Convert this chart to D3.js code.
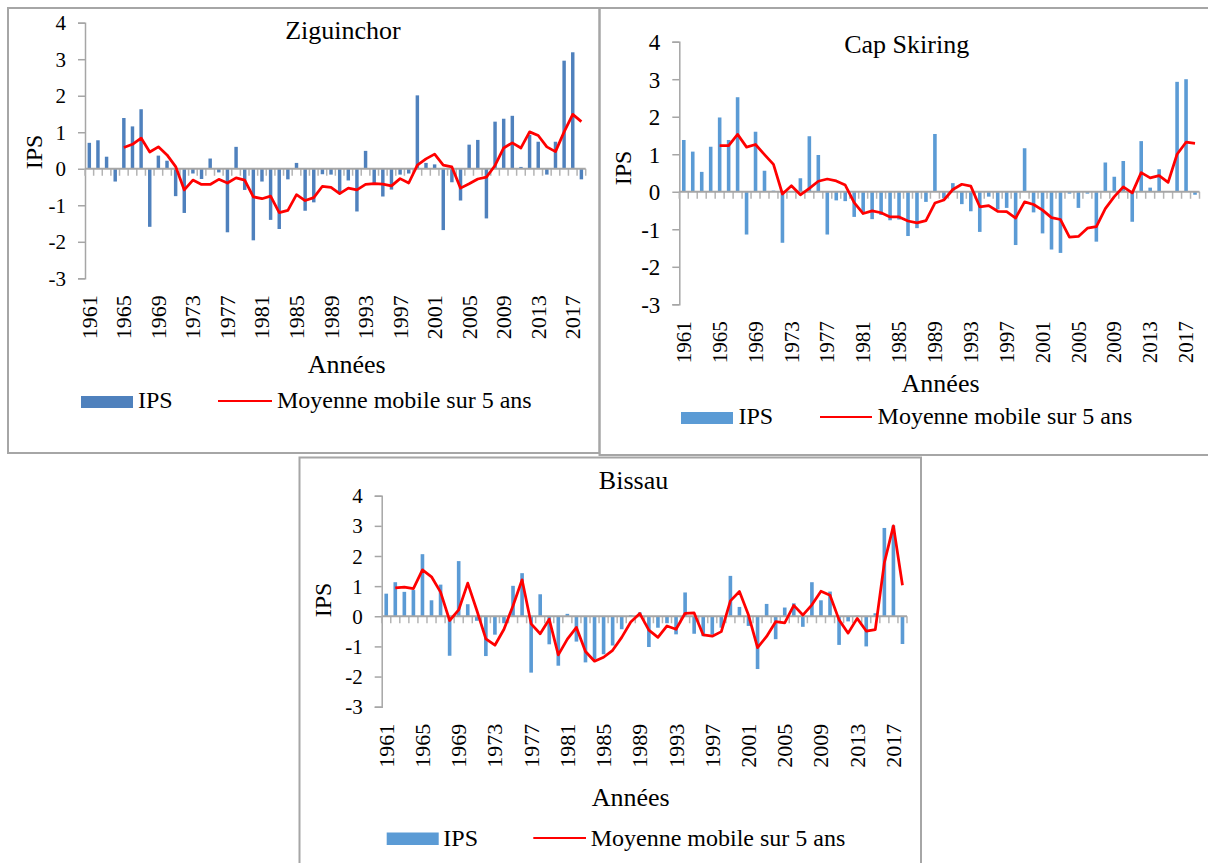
<!DOCTYPE html>
<html>
<head>
<meta charset="utf-8">
<script src="https://cdn.jsdelivr.net/npm/d3@7"></script>
<style>
  html, body { margin: 0; padding: 0; background: #fff; }
  svg { display: block; }
  text { font-family: "Liberation Serif", "Times New Roman", serif; fill: #000; }
</style>
</head>
<body>
<svg id="chart" width="1208" height="863"></svg>
<script>
'use strict';

// categories
var years = [1961, 1962, 1963, 1964, 1965, 1966, 1967, 1968, 1969, 1970,
    1971, 1972, 1973, 1974, 1975, 1976, 1977, 1978, 1979, 1980,
    1981, 1982, 1983, 1984, 1985, 1986, 1987, 1988, 1989, 1990,
    1991, 1992, 1993, 1994, 1995, 1996, 1997, 1998, 1999, 2000,
    2001, 2002, 2003, 2004, 2005, 2006, 2007, 2008, 2009, 2010,
    2011, 2012, 2013, 2014, 2015, 2016, 2017, 2018];
var yearLabels = [1961, 1965, 1969, 1973, 1977, 1981, 1985, 1989, 1993,
    1997, 2001, 2005, 2009, 2013, 2017];
var yTicks = [-3, -2, -1, 0, 1, 2, 3, 4];

// Ziguinchor
var ziguinchorIps = [0.71, 0.78, 0.33, -0.35, 1.39, 1.16, 1.63, -1.59, 0.36, 0.22,
    -0.75, -1.21, -0.13, -0.28, 0.28, -0.10, -1.74, 0.60, -0.58, -1.96,
    -0.35, -1.40, -1.65, -0.29, 0.16, -1.15, -0.92, -0.15, -0.16, -0.66,
    -0.32, -1.17, 0.49, -0.41, -0.76, -0.57, -0.16, -0.13, 2.01, 0.16,
    0.12, -1.68, -0.37, -0.87, 0.66, 0.79, -1.36, 1.29, 1.37, 1.45,
    0.05, 0.93, 0.74, -0.16, 0.74, 2.96, 3.19, -0.29];
var ziguinchorMoy = [null, null, null, null, 0.58, 0.67, 0.84, 0.46, 0.60, 0.38,
    0.06, -0.58, -0.31, -0.43, -0.43, -0.29, -0.39, -0.25, -0.31, -0.77,
    -0.82, -0.75, -1.20, -1.14, -0.71, -0.87, -0.79, -0.48, -0.51, -0.68,
    -0.53, -0.58, -0.43, -0.41, -0.42, -0.47, -0.27, -0.39, 0.10, 0.27,
    0.40, 0.10, 0.05, -0.53, -0.41, -0.28, -0.23, 0.09, 0.57, 0.71,
    0.57, 1.01, 0.91, 0.60, 0.47, 1.01, 1.49, 1.29];

// Cap Skiring
var capSkiringIps = [1.38, 1.07, 0.53, 1.20, 1.98, 1.38, 2.52, -1.14, 1.60, 0.56,
    0.03, -1.36, 0.02, 0.36, 1.48, 0.98, -1.14, -0.23, -0.25, -0.67,
    -0.58, -0.73, -0.62, -0.76, -0.74, -1.18, -0.97, -0.27, 1.54, -0.18,
    0.23, -0.33, -0.52, -1.07, -0.13, -0.47, -0.43, -1.42, 1.16, -0.55,
    -1.11, -1.54, -1.63, -0.05, -0.43, -0.05, -1.33, 0.78, 0.40, 0.82,
    -0.80, 1.35, 0.11, 0.60, 0.02, 2.93, 3.00, -0.08];
var capSkiringMoy = [null, null, null, null, 1.23, 1.23, 1.53, 1.19, 1.26, 0.99,
    0.73, -0.06, 0.16, -0.08, 0.09, 0.28, 0.34, 0.29, 0.18, -0.29,
    -0.58, -0.51, -0.56, -0.67, -0.67, -0.78, -0.83, -0.77, -0.30, -0.22,
    0.06, 0.20, 0.15, -0.40, -0.37, -0.52, -0.53, -0.70, -0.27, -0.34,
    -0.49, -0.69, -0.74, -1.21, -1.19, -0.97, -0.93, -0.45, -0.13, 0.13,
    -0.03, 0.51, 0.37, 0.43, 0.25, 1.00, 1.32, 1.29];

// Bissau
var bissauIps = [0.75, 1.13, 0.81, 0.87, 2.06, 0.53, 1.05, -1.31, 1.83, 0.40,
    -0.15, -1.32, -0.61, -0.23, 1.01, 1.43, -1.87, 0.73, -0.93, -1.64,
    0.08, -0.84, -1.53, -1.43, -1.26, -0.97, -0.43, 0.04, 0.13, -1.02,
    -0.38, -0.23, -0.60, 0.79, -0.58, -0.66, -0.61, -0.38, 1.34, 0.31,
    -0.32, -1.75, 0.41, -0.76, 0.29, 0.43, -0.35, 1.13, 0.53, 0.82,
    -0.95, -0.17, 0.02, -1.00, 0.10, 2.93, 3.01, -0.92];
var bissauMoy = [null, 0.94, 0.97, 0.92, 1.54, 1.31, 0.80, -0.14, 0.21, 1.10,
    0.20, -0.75, -0.96, -0.43, 0.35, 1.21, -0.25, -0.58, -0.10, -1.28,
    -0.76, -0.37, -1.17, -1.49, -1.36, -1.13, -0.70, -0.19, 0.09, -0.46,
    -0.70, -0.32, -0.43, 0.10, 0.11, -0.62, -0.66, -0.51, 0.51, 0.82,
    0.04, -1.04, -0.67, -0.18, -0.22, 0.36, 0.04, 0.38, 0.83, 0.70,
    -0.12, -0.56, -0.07, -0.49, -0.44, 1.78, 3.00, 1.03];

var AXIS_GREY = '#a6a6a6';
var LINE_RED = '#ff0000';

var panels = [
    {
        title: 'Ziguinchor', ips: ziguinchorIps, moy: ziguinchorMoy, barColor: '#4f81bd',
        frame: [8, 8, 591.5, 445],
        x0: 85, x1: 585.7, yTop: 22.7, yBot: 278.3,
        yTickSize: 21, xTickSize: 22,
        titlePos: [343, 39], annees: [346.7, 372.7], ipsLabel: [34, 152],
        legend: {swatch: [81, 396, 52, 12], ipsText: [138, 408], line: [218, 272, 401], moyText: [277, 408]}
    },
    {
        title: 'Cap Skiring', ips: capSkiringIps, moy: capSkiringMoy, barColor: '#5b9bd5',
        frame: [599.5, 8, 640, 447],
        x0: 679.3, x1: 1199.5, yTop: 41.7, yBot: 304.3,
        yTickSize: 23, xTickSize: 21,
        titlePos: [906.7, 53], annees: [940.6, 391.7], ipsLabel: [623, 168],
        legend: {swatch: [681, 412, 52, 12], ipsText: [738.5, 424], line: [820, 872, 417], moyText: [877.6, 424]}
    },
    {
        title: 'Bissau', ips: bissauIps, moy: bissauMoy, barColor: '#5b9bd5',
        frame: [299.5, 457.5, 621.5, 430],
        x0: 381.7, x1: 907, yTop: 495.7, yBot: 706.7,
        yTickSize: 21, xTickSize: 22,
        titlePos: [633.5, 489], annees: [630.7, 806], ipsLabel: [323, 600],
        legend: {swatch: [386.7, 832.5, 52, 12.5], ipsText: [443.3, 845.5], line: [533.3, 586, 838], moyText: [590.7, 845.5]}
    }
];

var svg = d3.select('#chart');
svg.append('rect')
    .attr('width', 1208)
    .attr('height', 863)
    .attr('fill', '#fff');

function drawPanel(p) {
    var g = svg.append('g').attr('class', 'panel');

    g.append('rect')
        .attr('x', p.frame[0])
        .attr('y', p.frame[1])
        .attr('width', p.frame[2])
        .attr('height', p.frame[3])
        .attr('fill', 'none')
        .attr('stroke', AXIS_GREY)
        .attr('stroke-width', 2);

    var x = d3.scaleBand().domain(years).range([p.x0, p.x1]).padding(0),
        y = d3.scaleLinear().domain([-3, 4]).range([p.yBot, p.yTop]),
        bw = x.bandwidth(),
        barW = bw * 0.4;

    // y axis
    var yAxis = g.append('g')
        .attr('transform', `translate(${p.x0},0)`)
        .call(d3.axisLeft(y)
            .tickValues(yTicks)
            .tickSize(7)
            .tickPadding(12)
            .tickFormat(d => String(d)));
    yAxis.attr('font-family', null).attr('font-size', null);
    yAxis.select('.domain').attr('stroke', AXIS_GREY).attr('stroke-width', 1.5);
    yAxis.selectAll('.tick line').attr('stroke', AXIS_GREY).attr('stroke-width', 1.5);
    yAxis.selectAll('.tick text')
        .style('font-size', p.yTickSize + 'px')
        .attr('dy', '0.34em');

    // bars
    g.append('g').selectAll('rect')
        .data(years.map((yr, i) => ({year: yr, v: p.ips[i]})))
        .join('rect')
        .attr('x', d => x(d.year) + (bw - barW) / 2)
        .attr('y', d => Math.min(y(d.v), y(0)))
        .attr('width', barW)
        .attr('height', d => Math.abs(y(d.v) - y(0)))
        .attr('fill', p.barColor);

    // category axis at zero, with boundary ticks
    var zeroY = y(0);
    g.append('g').selectAll('line')
        .data(years.map(yr => x(yr)).concat([p.x1]))
        .join('line')
        .attr('x1', d => d).attr('x2', d => d)
        .attr('y1', zeroY).attr('y2', zeroY + 7)
        .attr('stroke', '#b4b4b4')
        .attr('stroke-width', 1.5);
    g.append('line')
        .attr('x1', p.x0).attr('x2', p.x1)
        .attr('y1', zeroY).attr('y2', zeroY)
        .attr('stroke', AXIS_GREY)
        .attr('stroke-width', 2);

    // year labels, low position
    var xAxis = g.append('g')
        .attr('transform', `translate(0,${p.yBot})`)
        .call(d3.axisBottom(x).tickValues(yearLabels).tickSize(0));
    xAxis.attr('font-family', null).attr('font-size', null);
    xAxis.select('.domain').remove();
    xAxis.selectAll('.tick text')
        .style('font-size', p.xTickSize + 'px')
        .attr('transform', 'rotate(-90)')
        .attr('text-anchor', 'end')
        .attr('x', -17)
        .attr('y', 0)
        .attr('dy', '0.34em');

    // moving average
    var line = d3.line()
        .defined(d => d.v !== null)
        .x(d => x(d.year) + bw / 2)
        .y(d => y(d.v));
    g.append('path')
        .datum(years.map((yr, i) => ({year: yr, v: p.moy[i]})))
        .attr('d', line)
        .attr('fill', 'none')
        .attr('stroke', LINE_RED)
        .attr('stroke-width', 2.75)
        .attr('stroke-linejoin', 'round');

    // texts
    g.append('text')
        .attr('x', p.titlePos[0]).attr('y', p.titlePos[1])
        .attr('text-anchor', 'middle')
        .style('font-size', '26px')
        .text(p.title);

    g.append('text')
        .attr('x', p.annees[0]).attr('y', p.annees[1])
        .attr('text-anchor', 'middle')
        .style('font-size', '26px')
        .text('Années');

    g.append('text')
        .attr('transform', `translate(${p.ipsLabel[0]},${p.ipsLabel[1]}) rotate(-90)`)
        .attr('text-anchor', 'middle')
        .attr('dy', '0.34em')
        .style('font-size', '24px')
        .text('IPS');

    // legend
    var lg = p.legend;
    g.append('rect')
        .attr('x', lg.swatch[0]).attr('y', lg.swatch[1])
        .attr('width', lg.swatch[2]).attr('height', lg.swatch[3])
        .attr('fill', p.barColor);
    g.append('text')
        .attr('x', lg.ipsText[0]).attr('y', lg.ipsText[1])
        .style('font-size', '24px')
        .text('IPS');
    g.append('line')
        .attr('x1', lg.line[0]).attr('x2', lg.line[1])
        .attr('y1', lg.line[2]).attr('y2', lg.line[2])
        .attr('stroke', LINE_RED)
        .attr('stroke-width', 2.2);
    g.append('text')
        .attr('x', lg.moyText[0]).attr('y', lg.moyText[1])
        .style('font-size', '24px')
        .text('Moyenne mobile sur 5 ans');
}

panels.forEach(drawPanel);
</script>
</body>
</html>
